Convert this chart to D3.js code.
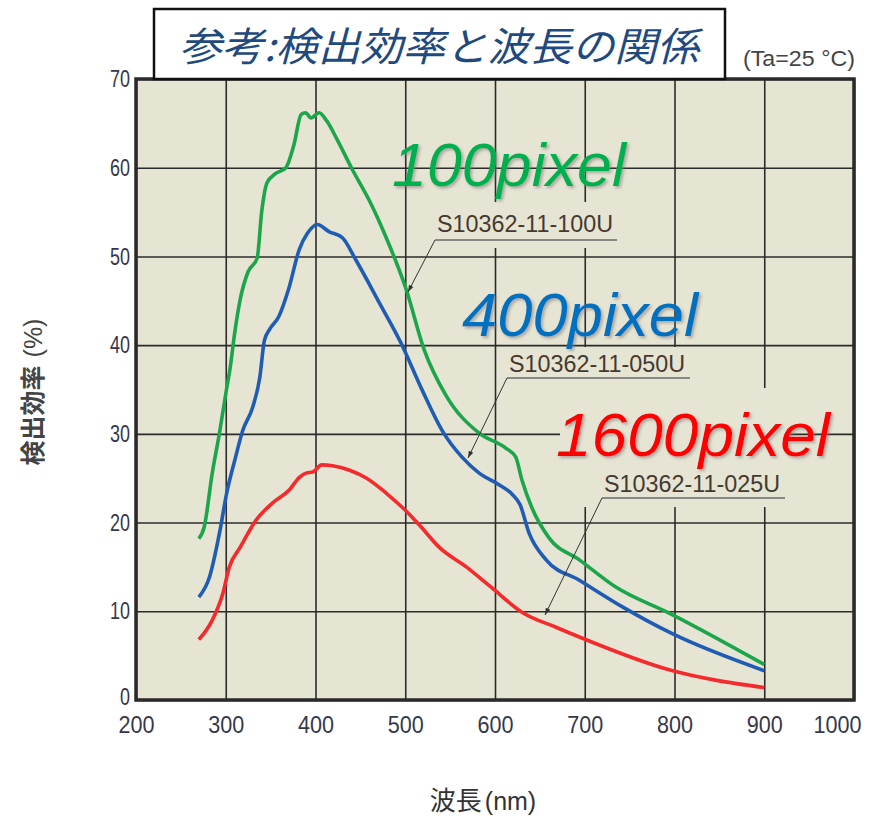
<!DOCTYPE html>
<html>
<head>
<meta charset="utf-8">
<script src="https://cdn.jsdelivr.net/npm/d3@7"></script>
<style>
  body { margin: 0; background: #fff; }
  .tick text { font-family: "Liberation Sans", Arial, sans-serif; }
</style>
</head>
<body>
<div id="chart-area"></div>
<script>
// wavelength (nm) / detection efficiency (%)
const wl100 = [270, 276, 285, 293, 300, 305, 310, 316, 325, 335, 340, 346, 355, 367, 376, 384, 389, 395, 404, 413, 424, 441, 460, 478, 501, 521, 545, 582, 612, 623, 630, 641, 660, 694, 735, 794, 900]
const pde100 = [18.2, 19.5, 25.6, 30.1, 34.5, 37.5, 41.4, 45.1, 48.3, 49.8, 55.0, 58.3, 59.3, 60.0, 62.6, 66.0, 66.2, 65.6, 66.2, 65.2, 63.2, 59.8, 56.3, 52.3, 46.3, 39.5, 34.4, 30.1, 28.4, 27.4, 24.8, 21.7, 18.3, 15.8, 12.7, 9.8, 4.0]

const wl050 = [270, 282, 293, 301, 310, 319, 330, 338, 343, 349, 359, 370, 382, 391, 402, 415, 430, 445, 471, 495, 519, 541, 563, 582, 604, 619, 628, 638, 657, 694, 742, 797, 900]
const pde050 = [11.6, 13.9, 18.8, 23.3, 27.0, 30.4, 33.0, 36.4, 40.5, 41.8, 43.2, 46.3, 50.8, 52.6, 53.6, 52.8, 52.1, 49.6, 44.8, 40.3, 34.9, 30.4, 27.4, 25.6, 24.3, 23.2, 22.0, 18.8, 15.8, 13.5, 10.5, 7.5, 3.3]

const wl025 = [270, 285, 297, 304, 316, 334, 352, 371, 382, 390, 397, 407, 419, 438, 457, 479, 502, 516, 538, 568, 597, 630, 668, 694, 794, 900]
const pde025 = [6.8, 9.0, 12.1, 15.0, 17.2, 20.3, 22.2, 23.7, 25.1, 25.6, 25.7, 26.5, 26.4, 25.9, 25.0, 23.3, 21.2, 19.7, 17.2, 15.0, 12.6, 9.9, 8.2, 7.1, 3.4, 1.4]

const xTicks = [200, 300, 400, 500, 600, 700, 800, 900, 1000]
const yTicks = [0, 10, 20, 30, 40, 50, 60, 70]

const models = ["S10362-11-100U", "S10362-11-050U", "S10362-11-025U"]
const pixelLabels = ["100pixel", "400pixel", "1600pixel"]

const MARGIN = { LEFT: 136, RIGHT: 27, TOP: 79, BOTTOM: 119 }
const WIDTH = 881 - MARGIN.LEFT - MARGIN.RIGHT
const HEIGHT = 819 - MARGIN.TOP - MARGIN.BOTTOM

const svg = d3.select("#chart-area").append("svg")
  .attr("width", 881)
  .attr("height", 819)

const defs = svg.append("defs")
const shadow = defs.append("filter").attr("id", "shadow")
  .attr("x", "-10%").attr("y", "-10%").attr("width", "130%").attr("height", "140%")
shadow.append("feDropShadow")
  .attr("dx", 2).attr("dy", 2).attr("stdDeviation", 1.5)
  .attr("flood-color", "#777").attr("flood-opacity", 0.55)

const g = svg.append("g")
  .attr("transform", `translate(${MARGIN.LEFT}, ${MARGIN.TOP})`)

const x = d3.scaleLinear().domain([200, 1000]).range([0, WIDTH])
const y = d3.scaleLinear().domain([0, 70]).range([HEIGHT, 0])

g.append("rect")
  .attr("width", WIDTH).attr("height", HEIGHT)
  .attr("fill", "#e6e4d3")

// vertical grid
g.append("g")
  .attr("transform", `translate(0, ${HEIGHT})`)
  .call(d3.axisBottom(x).tickValues(xTicks).tickSize(-HEIGHT).tickFormat(""))
  .call(a => a.select(".domain").remove())
  .selectAll("line").attr("stroke", "#2b2b2b").attr("stroke-width", 1.6)

// label patches break the vertical lines
const patches = [[430, 202, 192, 46], [500, 347, 195, 41], [560, 388, 230, 119]]
svg.selectAll(".patch").data(patches).enter().append("rect")
  .attr("x", d => d[0]).attr("y", d => d[1])
  .attr("width", d => d[2]).attr("height", d => d[3])
  .attr("fill", "#e6e4d3")

// horizontal grid
g.append("g")
  .call(d3.axisLeft(y).tickValues(yTicks).tickSize(-WIDTH).tickFormat(""))
  .call(a => a.select(".domain").remove())
  .selectAll("line").attr("stroke", "#2b2b2b").attr("stroke-width", 1.6)

// tick labels (narrow digits)
const xAxisGroup = g.append("g")
  .attr("transform", `translate(0, ${HEIGHT})`)
  .call(d3.axisBottom(x).tickValues(xTicks).tickSize(0).tickPadding(16).tickFormat(d3.format("d")))
xAxisGroup.select(".domain").remove()
xAxisGroup.selectAll("text")
  .attr("font-size", "24px").attr("fill", "#36384a")
  .attr("dx", d => d === 1000 ? -17 : 0)
  .attr("textLength", d => String(d).length * 12)
  .attr("lengthAdjust", "spacingAndGlyphs")

const yAxisGroup = g.append("g")
  .call(d3.axisLeft(y).tickValues(yTicks).tickSize(0).tickPadding(6))
yAxisGroup.select(".domain").remove()
yAxisGroup.selectAll("text")
  .attr("font-size", "24px").attr("fill", "#36384a")
  .attr("dy", d => d === 0 ? "0.2em" : "0.32em")
  .attr("textLength", d => String(d).length * 10)
  .attr("lengthAdjust", "spacingAndGlyphs")

// curves
const series = [
  { wl: wl025, pde: pde025, color: "#f42a2c" },
  { wl: wl050, pde: pde050, color: "#1f5cb4" },
  { wl: wl100, pde: pde100, color: "#1ca64b" }
]
const line = d3.line()
  .x(d => x(d[0]))
  .y(d => y(d[1]))
  .curve(d3.curveMonotoneX)

g.selectAll(".curve").data(series).enter().append("path")
  .attr("fill", "none")
  .attr("stroke", d => d.color)
  .attr("stroke-width", 3.6)
  .attr("stroke-linejoin", "round")
  .attr("d", d => line(d3.zip(d.wl, d.pde)))

// frame
g.append("rect")
  .attr("width", WIDTH).attr("height", HEIGHT)
  .attr("fill", "none").attr("stroke", "#2a2a2a").attr("stroke-width", 3.5)

// model labels with leaders
const leaders = [
  { tx: 437, ty: 232, u0: 435, u1: 617, uy: 240, ax: 408, ay: 292 },
  { tx: 509, ty: 372, u0: 507, u1: 690, uy: 378, ax: 468, ay: 458 },
  { tx: 604, ty: 492, u0: 602, u1: 785, uy: 498, ax: 545, ay: 615 }
]
defs.append("marker").attr("id", "arrow")
  .attr("viewBox", "0 0 10 10").attr("refX", 10).attr("refY", 5)
  .attr("markerWidth", 7).attr("markerHeight", 7).attr("orient", "auto")
  .append("path").attr("d", "M0,1.5 L10,5 L0,8.5 Z").attr("fill", "#333")

leaders.forEach((d, i) => {
  svg.append("text")
    .attr("x", d.tx).attr("y", d.ty)
    .attr("font-family", "'Liberation Sans', Arial, sans-serif")
    .attr("font-size", "23px")
    .attr("fill", "#45392f")
    .attr("textLength", 176).attr("lengthAdjust", "spacingAndGlyphs")
    .text(models[i])
  svg.append("line")
    .attr("x1", d.u0).attr("x2", d.u1).attr("y1", d.uy).attr("y2", d.uy)
    .attr("stroke", "#6a6a6a").attr("stroke-width", 1.3)
  svg.append("line")
    .attr("x1", d.u0).attr("y1", d.uy).attr("x2", d.ax).attr("y2", d.ay)
    .attr("stroke", "#333").attr("stroke-width", 1)
    .attr("marker-end", "url(#arrow)")
})

// pixel labels
const pixelPos = [[392, 186, "#00b050", 234], [462, 336, "#0070c0", 236], [556, 456, "#ff0000", 274]]
pixelPos.forEach((p, i) => {
  svg.append("text")
    .attr("x", p[0]).attr("y", p[1])
    .attr("font-family", "'Liberation Sans', Arial, sans-serif")
    .attr("font-style", "italic")
    .attr("font-size", "62px")
    .attr("fill", p[2])
    .attr("textLength", p[3]).attr("lengthAdjust", "spacingAndGlyphs")
    .attr("filter", "url(#shadow)")
    .text(pixelLabels[i])
})

// title box
svg.append("rect")
  .attr("x", 154).attr("y", 9).attr("width", 571).attr("height", 70)
  .attr("fill", "#fff").attr("stroke", "#111").attr("stroke-width", 2.5)
svg.append("text")
  .attr("x", 179).attr("y", 61)
  .attr("font-family", "'Noto Sans CJK JP', sans-serif")
  .attr("font-style", "italic")
  .attr("font-size", "40px")
  .attr("fill", "#1f4a80")
  .attr("textLength", 520).attr("lengthAdjust", "spacingAndGlyphs")
  .text("参考:検出効率と波長の関係")

svg.append("text")
  .attr("x", 855).attr("y", 66)
  .attr("text-anchor", "end")
  .attr("font-family", "'Liberation Sans', Arial, sans-serif")
  .attr("font-size", "22px")
  .attr("fill", "#444")
  .attr("textLength", 112).attr("lengthAdjust", "spacingAndGlyphs")
  .text("(Ta=25 °C)")

// X label
svg.append("text")
  .attr("x", 483).attr("y", 810)
  .attr("text-anchor", "middle")
  .attr("font-size", "26px")
  .attr("fill", "#333")
  .call(t => {
    t.append("tspan").attr("font-family", "'Noto Sans CJK JP', sans-serif").text("波長")
    t.append("tspan").attr("font-family", "'Liberation Sans', Arial, sans-serif").attr("dx", 3).attr("font-size", "25px").text("(nm)")
  })

// Y label
svg.append("text")
  .attr("transform", "translate(42, 392) rotate(-90)")
  .attr("text-anchor", "middle")
  .attr("font-size", "25px")
  .attr("fill", "#444")
  .call(t => {
    t.append("tspan").attr("font-family", "'Noto Sans CJK JP', sans-serif").attr("font-weight", "bold").text("検出効率")
    t.append("tspan").attr("font-family", "'Liberation Sans', Arial, sans-serif").attr("dx", 8).text("(%)")
  })
</script>
</body>
</html>
